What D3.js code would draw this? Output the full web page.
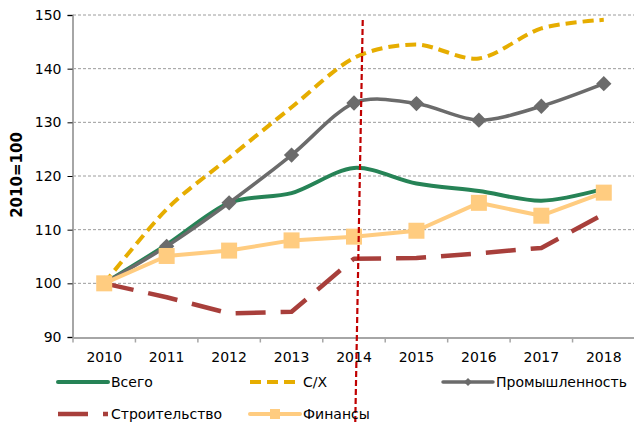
<!DOCTYPE html>
<html>
<head>
<meta charset="utf-8">
<script src="https://cdn.jsdelivr.net/npm/d3@7"></script>
<style>
  body { margin: 0; background: #fff; }
  svg text { font-family: "DejaVu Sans", sans-serif; fill: #000; }
</style>
</head>
<body>
<div id="vis"></div>
<script>
// data
const years = ["2010", "2011", "2012", "2013", "2014", "2015", "2016", "2017", "2018"];
const total = [100, 107.2, 115, 116.8, 121.5, 118.6, 117.2, 115.4, 117.6];
const agri = [100, 113.8, 123.4, 132.8, 142, 144.5, 141.9, 147.5, 149.1];
const industry = [100, 106.9, 115, 123.9, 133.6, 133.5, 130.4, 133, 137.2];
const construction = [100, 97.4, 94.4, 94.7, 104.6, 104.7, 105.6, 106.6, 112.9];
const finance = [100, 105.1, 106.1, 108, 108.7, 109.8, 115, 112.6, 116.9];
const yTicks = [90, 100, 110, 120, 130, 140, 150];
const markerYear = "2014";

const series = [
  { name: "Всего", values: total, color: "#268356", width: 4, dash: null, smooth: true, marker: null },
  { name: "С/Х", values: agri, color: "#e6ad00", width: 4, dash: "11,6", smooth: true, marker: null },
  { name: "Промышленность", values: industry, color: "#6b6b6b", width: 3.5, dash: null, smooth: true, marker: "diamond" },
  { name: "Строительство", values: construction, color: "#a83f3b", width: 4.5, dash: "30,15", smooth: false, marker: null },
  { name: "Финансы", values: finance, color: "#ffcc80", width: 4, dash: null, smooth: false, marker: "square" }
];

const W = 634, H = 423;
const margin = { top: 15, right: 0, bottom: 86, left: 73 };

const svg = d3.select("#vis").append("svg")
  .attr("width", W).attr("height", H);

const x = d3.scaleBand().domain(years).range([margin.left, 635]);
const y = d3.scaleLinear().domain([90, 150]).range([H - margin.bottom, margin.top]);
const cx = d => x(d) + x.bandwidth() / 2;

// grid
svg.append("g").selectAll("line")
  .data(yTicks.filter(t => t > 90))
  .enter().append("line")
  .attr("x1", margin.left).attr("x2", W)
  .attr("y1", d => y(d)).attr("y2", d => y(d))
  .attr("stroke", "#9c9c9c").attr("stroke-width", 1)
  .attr("stroke-dasharray", "3,2");

// y axis
const yAxis = svg.append("g")
  .attr("transform", "translate(" + (margin.left - 0.5) + ",0)")
  .call(d3.axisLeft(y).tickValues(yTicks).tickSize(5).tickPadding(6));
yAxis.selectAll("text").style("font-size", "14px").attr("fill", "#000");

// x axis
const xAxis = svg.append("g")
  .attr("transform", "translate(0," + (y(90) + 0.5) + ")")
  .call(d3.axisBottom(x).tickSize(0).tickPadding(15));
xAxis.selectAll("text").style("font-size", "14px").attr("fill", "#000");
// ticks on the category borders
xAxis.selectAll(".border")
  .data(years.concat(["end"]))
  .enter().append("line")
  .attr("x1", (d, i) => margin.left + i * x.step())
  .attr("x2", (d, i) => margin.left + i * x.step())
  .attr("y1", 0).attr("y2", 5)
  .attr("stroke", "#a6a6a6").attr("stroke-width", 1.5);
svg.selectAll(".domain").attr("stroke", "#a6a6a6").attr("stroke-width", 2);

// y title
svg.append("text")
  .attr("transform", "translate(22,175) rotate(-90)")
  .attr("text-anchor", "middle")
  .style("font-size", "15px")
  .style("font-weight", "bold")
  .text("2010=100");

// lines
const lines = svg.append("g");
series.forEach(function (s) {
  const line = d3.line()
    .x((d, i) => cx(years[i]))
    .y(d => y(d))
    .curve(s.smooth ? d3.curveCardinal.tension(0.1) : d3.curveLinear);
  lines.append("path")
    .datum(s.values)
    .attr("d", line)
    .attr("fill", "none")
    .attr("stroke", s.color)
    .attr("stroke-width", s.width)
    .attr("stroke-dasharray", s.dash)
    .attr("stroke-linejoin", "round");

  if (s.marker === "diamond") {
    lines.append("g").selectAll("path")
      .data(s.values).enter().append("path")
      .attr("d", d3.symbol().type(d3.symbolDiamond2).size(150))
      .attr("transform", (d, i) => "translate(" + cx(years[i]) + "," + y(d) + ")")
      .attr("fill", s.color);
  }
  if (s.marker === "square") {
    lines.append("g").selectAll("rect")
      .data(s.values).enter().append("rect")
      .attr("x", (d, i) => cx(years[i]) - 8)
      .attr("y", d => y(d) - 8)
      .attr("width", 16).attr("height", 16)
      .attr("fill", s.color);
  }
});

// vertical 2014 marker line (slightly tilted, runs into the legend)
svg.append("line")
  .attr("x1", x(markerYear) + x.bandwidth() * 0.64)
  .attr("y1", 20)
  .attr("x2", x(markerYear) + x.bandwidth() * 0.52)
  .attr("y2", H)
  .attr("stroke", "#c00000")
  .attr("stroke-width", 2.2)
  .attr("stroke-dasharray", "6,3");

// legend
const legendPos = [
  { x: 58, y: 382 }, { x: 250, y: 382 }, { x: 443, y: 382 },
  { x: 58, y: 414 }, { x: 250, y: 414 }
];
const legend = svg.append("g");
series.forEach(function (s, i) {
  const p = legendPos[i];
  const g = legend.append("g").attr("transform", "translate(" + p.x + "," + p.y + ")");
  g.append("line")
    .attr("x1", 0).attr("x2", 50).attr("y1", 0).attr("y2", 0)
    .attr("stroke", s.color).attr("stroke-width", s.width)
    .attr("stroke-dasharray", s.dash)
    .attr("stroke-linecap", s.dash ? "butt" : "round");
  if (s.marker === "diamond") {
    g.append("path")
      .attr("d", d3.symbol().type(d3.symbolDiamond2).size(40))
      .attr("transform", "translate(25,0)")
      .attr("fill", s.color);
  }
  if (s.marker === "square") {
    g.append("rect").attr("x", 20).attr("y", -5).attr("width", 10).attr("height", 10)
      .attr("fill", s.color);
  }
  g.append("text")
    .attr("x", 53).attr("y", 5)
    .style("font-size", "14px")
    .text(s.name);
});
</script>
</body>
</html>
